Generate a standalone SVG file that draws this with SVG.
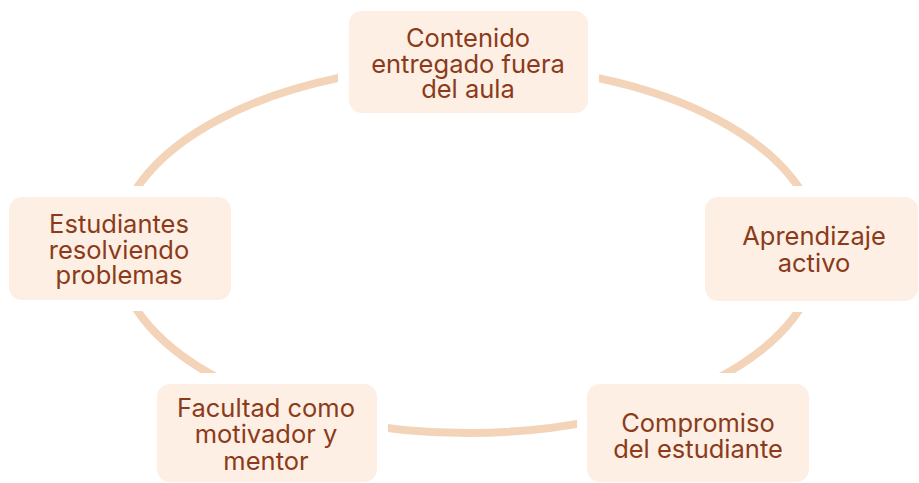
<svg xmlns="http://www.w3.org/2000/svg" width="919" height="483" viewBox="0 0 919 483">
<style>
.box{fill:#fdefe3;}
.lbl{font-family:Inter,"Noto Sans","Liberation Sans",sans-serif;font-size:25.5px;fill:#8b3b1b;text-anchor:middle;}
.ring{fill:none;stroke:#f3d4b9;stroke-width:8;}
</style>
<defs>
<mask id="gaps" maskUnits="userSpaceOnUse" x="0" y="0" width="919" height="483">
<rect x="0" y="0" width="919" height="483" fill="#fff"/>
<rect x="338" y="0" width="261" height="124" fill="#000"/>
<rect x="694" y="186" width="225" height="126" fill="#000"/>
<rect x="0" y="186" width="242" height="125" fill="#000"/>
<rect x="146" y="373" width="242" height="110" fill="#000"/>
<rect x="577" y="373" width="243" height="110" fill="#000"/>
</mask>
</defs>
<g id="connectors">
<ellipse class="ring" cx="468" cy="249" rx="351" ry="184" mask="url(#gaps)"/>
</g>
<g id="node-contenido">
<rect class="box" x="349" y="11" width="239" height="102" rx="13"/>
<text class="lbl" x="468" y="47">Contenido</text>
<text class="lbl" x="468" y="72.5">entregado fuera</text>
<text class="lbl" x="468" y="98">del aula</text>
</g>
<g id="node-aprendizaje">
<rect class="box" x="705" y="197" width="213" height="104" rx="13"/>
<text class="lbl" x="814" y="245">Aprendizaje</text>
<text class="lbl" x="814" y="272">activo</text>
</g>
<g id="node-estudiantes">
<rect class="box" x="9" y="197" width="222" height="103" rx="13"/>
<text class="lbl" x="119" y="233">Estudiantes</text>
<text class="lbl" x="119" y="258.5">resolviendo</text>
<text class="lbl" x="119" y="284">problemas</text>
</g>
<g id="node-facultad">
<rect class="box" x="157" y="384" width="220" height="98" rx="13"/>
<text class="lbl" x="266" y="417">Facultad como</text>
<text class="lbl" x="266" y="443">motivador y</text>
<text class="lbl" x="266" y="469.5">mentor</text>
</g>
<g id="node-compromiso">
<rect class="box" x="587" y="384" width="222" height="98" rx="13"/>
<text class="lbl" x="698" y="432">Compromiso</text>
<text class="lbl" x="698" y="458">del estudiante</text>
</g>
</svg>
